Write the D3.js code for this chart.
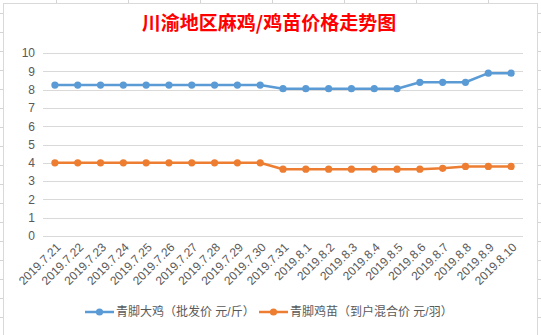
<!DOCTYPE html>
<html><head><meta charset="utf-8">
<script src="https://cdn.jsdelivr.net/npm/d3@7"></script>
<style>body{margin:0;background:#fff}svg{display:block}</style>
</head><body>
<svg id="c" width="541" height="335"></svg>
<script>
const title = "川渝地区麻鸡/鸡苗价格走势图";
const categories = ["2019.7.21","2019.7.22","2019.7.23","2019.7.24","2019.7.25","2019.7.26","2019.7.27","2019.7.28","2019.7.29","2019.7.30","2019.7.31","2019.8.1","2019.8.2","2019.8.3","2019.8.4","2019.8.5","2019.8.6","2019.8.7","2019.8.8","2019.8.9","2019.8.10"];
const seriesNames = ["青脚大鸡（批发价 元/斤）","青脚鸡苗（到户混合价 元/羽）"];
const bigChicken = [8.25,8.25,8.25,8.25,8.25,8.25,8.25,8.25,8.25,8.25,8.05,8.05,8.05,8.05,8.05,8.05,8.4,8.4,8.4,8.9,8.9];
const chick = [4.0,4.0,4.0,4.0,4.0,4.0,4.0,4.0,4.0,4.0,3.65,3.65,3.65,3.65,3.65,3.65,3.65,3.7,3.8,3.8,3.8];
const yTicks = [0,1,2,3,4,5,6,7,8,9,10];
const colors = ["#5B9BD5","#ED7D31"];

const svg = d3.select("#c");
const font = "'Liberation Sans','Noto Sans CJK SC',sans-serif";

// spreadsheet cell lines peeking out around chart
const sheet = svg.append("g").attr("stroke","#D4D4D4").attr("stroke-width",1);
[56,128,200,272,344,416,488].forEach(x=>sheet.append("line").attr("x1",x+0.5).attr("x2",x+0.5).attr("y1",0).attr("y2",3));
d3.range(13,335,19).forEach(y=>{
  sheet.append("line").attr("x1",0).attr("x2",3).attr("y1",y+0.5).attr("y2",y+0.5);
  sheet.append("line").attr("x1",538).attr("x2",541).attr("y1",y+0.5).attr("y2",y+0.5);
});
// chart frame
svg.append("rect").attr("x",3.5).attr("y",3.5).attr("width",534).attr("height",336)
  .attr("fill","#fff").attr("stroke","#D9D9D9");

const x = d3.scalePoint().domain(categories).range([43.5,522.5]).padding(0.5);
const y = d3.scaleLinear().domain([0,10]).range([236,53]);

// gridlines
svg.append("g").selectAll("line").data(yTicks).join("line")
  .attr("x1",43).attr("x2",523).attr("y1",d=>Math.round(y(d))+0.5).attr("y2",d=>Math.round(y(d))+0.5)
  .attr("stroke","#D9D9D9").attr("stroke-width",1);

// y axis labels
const yAxis = d3.axisLeft(y).tickValues(yTicks).tickSize(0).tickPadding(0);
const ya = svg.append("g").attr("transform","translate(35,0)").call(yAxis);
ya.select(".domain").remove();
ya.selectAll("text").attr("fill","#595959").style("font-family",font).style("font-size","12px");

// x axis labels
const xAxis = d3.axisBottom(x).tickSize(0).tickPadding(0);
const xa = svg.append("g").attr("transform","translate(0,236)").call(xAxis);
xa.select(".domain").remove();
xa.selectAll(".tick text")
  .attr("fill","#595959").style("font-family",font).style("font-size","12px")
  .attr("text-anchor","end").attr("dy",null).attr("y",null)
  .attr("transform","translate(6,12) rotate(-45)");

// series
const line = d3.line().x((d,i)=>x(categories[i])).y(d=>y(d));
[bigChicken, chick].forEach((s,k)=>{
  svg.append("path").datum(s).attr("d",line).attr("fill","none")
    .attr("stroke",colors[k]).attr("stroke-width",2.5).attr("stroke-linejoin","round");
  svg.append("g").selectAll("circle").data(s).join("circle")
    .attr("cx",(d,i)=>x(categories[i])).attr("cy",d=>y(d)).attr("r",3.6).attr("fill",colors[k]);
});

// title
svg.append("text").attr("x",269).attr("y",30).attr("text-anchor","middle")
  .attr("fill","#FF0000").style("font-family","'Noto Sans CJK SC',sans-serif")
  .style("font-size","19px").style("font-weight","bold").text(title);

// legend
const lg = [{x:85,tx:116},{x:259,tx:290}];
seriesNames.forEach((n,k)=>{
  const g = svg.append("g");
  g.append("line").attr("x1",lg[k].x).attr("x2",lg[k].x+29).attr("y1",312).attr("y2",312)
    .attr("stroke",colors[k]).attr("stroke-width",2.5);
  g.append("circle").attr("cx",lg[k].x+14.5).attr("cy",312).attr("r",3.6).attr("fill",colors[k]);
  g.append("text").attr("x",lg[k].tx).attr("y",312).attr("dy","0.35em")
    .attr("fill","#595959").style("font-family",font).style("font-size","12px").text(n);
});
</script>
</body></html>
